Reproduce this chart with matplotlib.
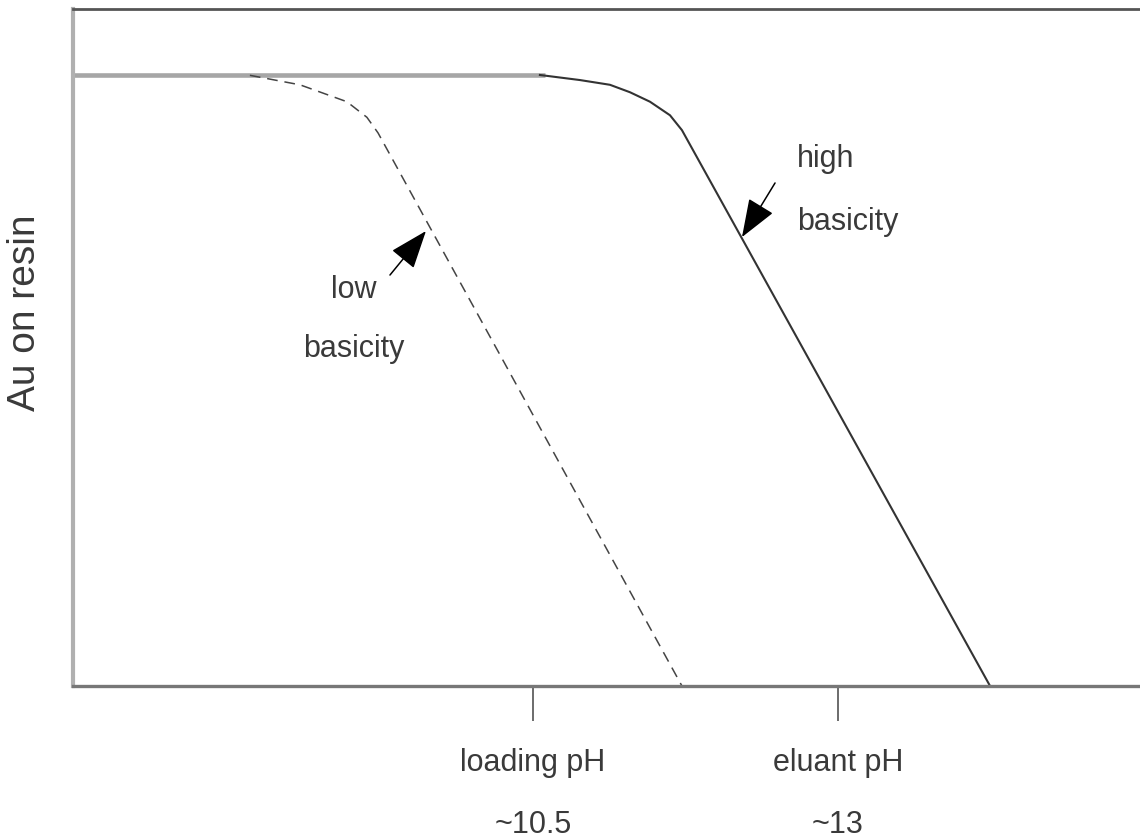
import numpy as np
import matplotlib
matplotlib.use('Agg')
import matplotlib.pyplot as plt

# --- data (x in pH units, y = fraction of Au on resin) ---
plateau_x = [6.73, 10.60]
plateau_y = [0.9025, 0.9025]

high_x = [10.557, 10.885, 11.131, 11.295, 11.459, 11.623, 11.721, 14.246]
high_y = [0.9025, 0.895, 0.888, 0.877, 0.863, 0.843, 0.821, 0.0]

low_x = [8.180, 8.590, 8.975, 9.139, 9.230, 11.721]
low_y = [0.902, 0.888, 0.863, 0.840, 0.817, 0.0]

tick_pos = [10.5, 13.0]
tick_labels = ['loading pH\n~10.5', 'eluant pH\n~13']

fam = ['Liberation Sans', 'DejaVu Sans']
txtcol = '#3a3a3a'
fs = 22

fig = plt.figure(figsize=(11.4, 8.38), dpi=100)
ax = fig.add_axes([0.064, 0.1814, 0.936, 0.8079])

ax.plot(plateau_x, plateau_y, color='#a6a6a6', lw=3.3, solid_capstyle='butt')
ax.plot(high_x, high_y, color='#333333', lw=1.5)
ax.plot(low_x, low_y, color='#444444', lw=1.1, linestyle=(0, (7, 4.5)))

ax.set_xlim(6.73, 15.475)
ax.set_ylim(0, 1)

# spines
ax.spines['right'].set_visible(False)
ax.spines['top'].set_color('#555555')
ax.spines['top'].set_linewidth(2.0)
ax.spines['left'].set_color('#b0b0b0')
ax.spines['left'].set_linewidth(3.0)
ax.spines['bottom'].set_color('#777777')
ax.spines['bottom'].set_linewidth(2.4)

ax.set_yticks([])
ax.set_xticks(tick_pos)
ax.set_xticklabels(tick_labels, fontsize=fs, family=fam, color=txtcol,
                   linespacing=2.35)
ax.tick_params(axis='x', length=25, width=1.1, color='#444444', pad=20,
               direction='out')

ax.set_ylabel('Au on resin', fontsize=28, family=fam, color=txtcol)
ax.yaxis.set_label_coords(-0.028, 0.551)

# arrows
arr = dict(arrowstyle='-|>, head_length=1.2, head_width=0.45', color='black',
           lw=1.1, shrinkA=0, shrinkB=0, mutation_scale=20)
ax.annotate('', xy=(12.213, 0.663), xytext=(12.484, 0.743), arrowprops=arr)
ax.annotate('', xy=(9.623, 0.672), xytext=(9.328, 0.607), arrowprops=arr)

# labels on the curves
ax.text(12.664, 0.7666, 'high', fontsize=fs, family=fam, color=txtcol,
        ha='left', va='baseline')
ax.text(12.664, 0.6736, 'basicity', fontsize=fs, family=fam, color=txtcol,
        ha='left', va='baseline')
ax.text(9.033, 0.5731, 'low', fontsize=fs, family=fam, color=txtcol,
        ha='center', va='baseline')
ax.text(9.033, 0.486, 'basicity', fontsize=fs, family=fam, color=txtcol,
        ha='center', va='baseline')

fig.savefig('out.png', dpi=100)
